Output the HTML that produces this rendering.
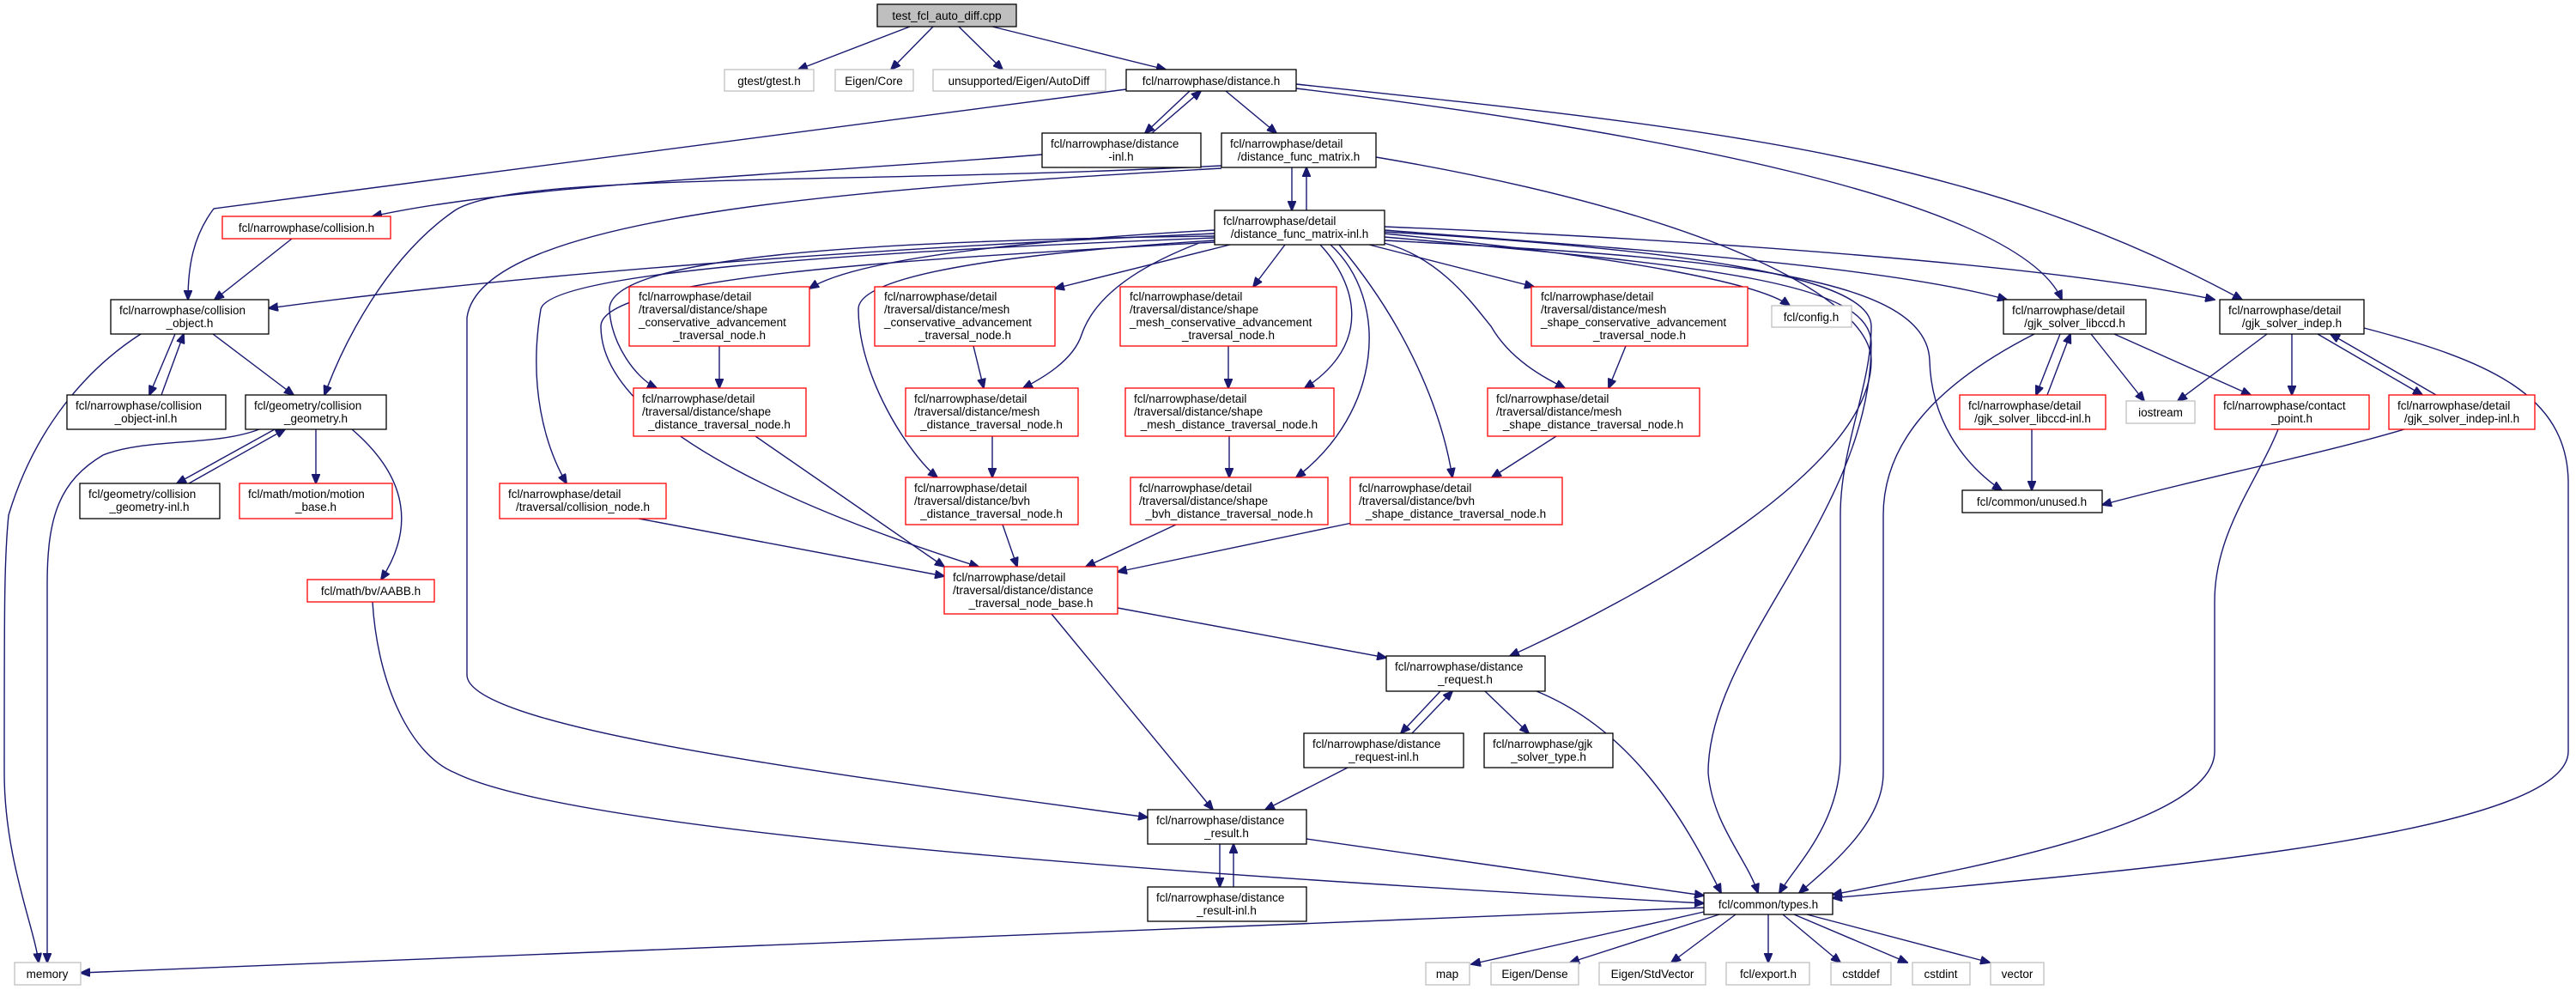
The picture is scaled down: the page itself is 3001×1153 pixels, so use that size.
<!DOCTYPE html>
<html><head><meta charset="utf-8"><style>
html,body{margin:0;padding:0;background:#fff;}
svg{display:block;}
text{font-family:"Liberation Sans",sans-serif;font-size:13.5px;fill:#000;}
.c{text-anchor:middle;}
.e{fill:none;stroke:#191970;stroke-width:1.4;marker-end:url(#a);}
.b{fill:#fff;stroke:#000;stroke-width:1.3;}
.r{fill:#fff;stroke:#ff0000;stroke-width:1.3;}
.g{fill:#fff;stroke:#bfbfbf;stroke-width:1.3;}
</style></head><body>
<svg width="3001" height="1153" viewBox="0 0 3001 1153" xmlns="http://www.w3.org/2000/svg">
<defs><marker id="a" viewBox="0 0 12 10" refX="11" refY="5" markerWidth="12" markerHeight="10" markerUnits="userSpaceOnUse" orient="auto"><path d="M0,0 L12,5 L0,10 z" fill="#191970" stroke="#191970"/></marker></defs>
<rect width="3001" height="1153" fill="#fff"/>
<!-- edges -->
<path class="e" d="M1060,31 L930,81"/>
<path class="e" d="M1087,31 L1038,81"/>
<path class="e" d="M1117,31 L1168,81"/>
<path class="e" d="M1156,31 L1358,81"/>
<path class="e" d="M1386,106 L1334,155"/>
<path class="e" d="M1342,155 L1399,106"/>
<path class="e" d="M1428,106 L1487,155"/>
<path class="e" d="M1312,104 L249,243 C225,275 219,310 219,349"/>
<path class="e" d="M1510,103 C1900,150 2350,230 2402,349"/>
<path class="e" d="M1510,98 C2000,150 2300,180 2612,349"/>
<path class="e" d="M1214,180 C900,205 600,215 434,252"/>
<path class="e" d="M1423,193 C1000,215 600,200 530,245 C450,300 400,400 378,460"/>
<path class="e" d="M1423,196 C1000,220 560,250 544,370 L544,786 C544,850 1000,905 1337,952"/>
<path class="e" d="M1505,195 L1505,245"/>
<path class="e" d="M1522,245 L1522,195"/>
<path class="e" d="M1603,183 C2000,250 2180,350 2180,420 C2180,550 1900,700 1759,764"/>
<path class="e" d="M1415,272 C1000,290 600,320 313,359"/>
<path class="e" d="M1415,268 C1200,280 1000,300 943,336"/>
<path class="e" d="M1433,285 L1229,336"/>
<path class="e" d="M1497,285 L1460,334"/>
<path class="e" d="M1595,285 L1787,334"/>
<path class="e" d="M1415,275 C1000,280 710,300 710,360 C712,400 740,440 765,452"/>
<path class="e" d="M1397,283 C1300,320 1270,360 1260,390 C1250,420 1215,440 1192,452"/>
<path class="e" d="M1538,285 C1580,330 1600,400 1520,452"/>
<path class="e" d="M1612,283 C1680,300 1720,360 1737,380 C1760,420 1800,440 1823,452"/>
<path class="e" d="M1415,277 C950,295 640,320 630,360 C615,450 635,520 660,563"/>
<path class="e" d="M1415,280 C1100,300 1000,330 1000,360 C1000,440 1060,530 1092,556"/>
<path class="e" d="M1550,285 C1620,350 1610,480 1510,556"/>
<path class="e" d="M1560,285 C1640,380 1680,480 1692,556"/>
<path class="e" d="M1415,282 C1100,300 700,320 700,380 C700,500 950,600 1140,660"/>
<path class="e" d="M744,604 L1100,671"/>
<path class="e" d="M880,508 L1100,660"/>
<path class="e" d="M1613,272 C1900,300 2050,330 2085,356"/>
<path class="e" d="M1613,268 C1900,290 2200,310 2338,349"/>
<path class="e" d="M1613,264 C2000,280 2400,310 2580,349"/>
<path class="e" d="M1613,270 C1950,290 2180,320 2180,380 C2180,450 2144,520 2144,600 L2144,880 C2144,960 2090,1010 2073,1040"/>
<path class="e" d="M1613,276 C2000,310 2180,330 2180,400 C2180,600 1990,750 1990,900 C1995,960 2035,1000 2048,1040"/>
<path class="e" d="M1613,280 C2000,300 2245,320 2248,420 C2250,500 2300,550 2332,571"/>
<path class="e" d="M2370,389 C2250,450 2194,520 2194,600 L2194,900 C2194,960 2130,1010 2096,1040"/>
<path class="e" d="M2400,389 L2372,460"/>
<path class="e" d="M2385,460 L2412,389"/>
<path class="e" d="M2436,389 L2498,467"/>
<path class="e" d="M2463,389 L2622,460"/>
<path class="e" d="M2367,500 L2367,571"/>
<path class="e" d="M2641,389 L2537,467"/>
<path class="e" d="M2670,389 L2670,460"/>
<path class="e" d="M2700,389 L2822,460"/>
<path class="e" d="M2838,460 L2715,389"/>
<path class="e" d="M2754,382 C2900,420 2990,460 2992,560 L2992,875 C2992,980 2400,1020 2135,1046"/>
<path class="e" d="M2801,500 C2700,530 2550,560 2449,588"/>
<path class="e" d="M2654,500 C2630,560 2580,620 2580,700 L2580,875 C2580,960 2300,1010 2135,1042"/>
<path class="e" d="M340,278 L250,349"/>
<path class="e" d="M204,389 L174,460"/>
<path class="e" d="M188,460 L214,389"/>
<path class="e" d="M248,389 L342,460"/>
<path class="e" d="M164,389 C100,430 40,500 10,600 C5,650 5,700 5,900 C5,1000 40,1080 45,1121"/>
<path class="e" d="M320,500 L206,563"/>
<path class="e" d="M220,563 L332,500"/>
<path class="e" d="M368,500 L368,563"/>
<path class="e" d="M410,500 C480,560 480,620 444,675"/>
<path class="e" d="M302,500 C250,520 170,510 120,530 C70,560 55,600 55,680 L55,1121"/>
<path class="e" d="M434,701 C440,800 480,880 530,900 C650,960 1200,1010 1985,1052"/>
<path class="e" d="M1985,1057 L94,1133"/>
<path class="e" d="M1302,708 L1615,766"/>
<path class="e" d="M1225,715 L1413,943"/>
<path class="e" d="M1678,805 L1632,854"/>
<path class="e" d="M1645,854 L1692,805"/>
<path class="e" d="M1730,805 L1781,854"/>
<path class="e" d="M1790,805 C1900,850 1960,950 2005,1040"/>
<path class="e" d="M1570,894 L1474,943"/>
<path class="e" d="M1421,983 L1421,1033"/>
<path class="e" d="M1437,1033 L1437,983"/>
<path class="e" d="M1522,977 L1985,1043"/>
<path class="e" d="M1985,1062 L1714,1123"/>
<path class="e" d="M2003,1065 L1829,1121"/>
<path class="e" d="M2022,1065 L1947,1121"/>
<path class="e" d="M2060,1065 L2060,1121"/>
<path class="e" d="M2077,1065 L2144,1121"/>
<path class="e" d="M2090,1065 L2222,1121"/>
<path class="e" d="M2105,1065 L2318,1121"/>
<path class="e" d="M838,403 L838,452"/>
<path class="e" d="M1134,403 L1146,452"/>
<path class="e" d="M1431,403 L1431,452"/>
<path class="e" d="M1894,403 L1874,452"/>
<path class="e" d="M1156,508 L1156,556"/>
<path class="e" d="M1432,508 L1432,556"/>
<path class="e" d="M1813,508 L1738,556"/>
<path class="e" d="M1168,611 L1185,660"/>
<path class="e" d="M1370,611 L1265,660"/>
<path class="e" d="M1575,609 L1302,666"/>

<!-- nodes -->
<rect x="1022" y="5" width="162" height="26" fill="#bfbfbf" stroke="#000" stroke-width="1.3"/><text class="c" x="1103" y="23">test_fcl_auto_diff.cpp</text>
<rect class="g" x="844" y="81" width="104" height="25"/><text class="c" x="896" y="99">gtest/gtest.h</text>
<rect class="g" x="973" y="81" width="91" height="25"/><text class="c" x="1018" y="99">Eigen/Core</text>
<rect class="g" x="1087" y="81" width="201" height="25"/><text class="c" x="1187" y="99">unsupported/Eigen/AutoDiff</text>
<rect class="b" x="1312" y="81" width="198" height="25"/><text class="c" x="1411" y="99">fcl/narrowphase/distance.h</text>
<rect class="b" x="1214" y="155" width="185" height="40"/><text x="1224" y="172">fcl/narrowphase/distance</text><text class="c" x="1306" y="187">-inl.h</text>
<rect class="b" x="1423" y="155" width="180" height="40"/><text x="1433" y="172">fcl/narrowphase/detail</text><text class="c" x="1513" y="187">/distance_func_matrix.h</text>
<rect class="r" x="259" y="252" width="196" height="26"/><text class="c" x="357" y="270">fcl/narrowphase/collision.h</text>
<rect class="b" x="1415" y="245" width="198" height="40"/><text x="1425" y="262">fcl/narrowphase/detail</text><text class="c" x="1514" y="277">/distance_func_matrix-inl.h</text>
<rect class="b" x="129" y="349" width="184" height="40"/><text x="139" y="366">fcl/narrowphase/collision</text><text class="c" x="221" y="381">_object.h</text>
<rect class="r" x="733" y="334" width="210" height="69"/><text x="744" y="350">fcl/narrowphase/detail</text><text x="744" y="365">/traversal/distance/shape</text><text x="744" y="380">_conservative_advancement</text><text class="c" x="838" y="395">_traversal_node.h</text>
<rect class="r" x="1019" y="334" width="210" height="69"/><text x="1030" y="350">fcl/narrowphase/detail</text><text x="1030" y="365">/traversal/distance/mesh</text><text x="1030" y="380">_conservative_advancement</text><text class="c" x="1124" y="395">_traversal_node.h</text>
<rect class="r" x="1305" y="334" width="252" height="69"/><text x="1316" y="350">fcl/narrowphase/detail</text><text x="1316" y="365">/traversal/distance/shape</text><text x="1316" y="380">_mesh_conservative_advancement</text><text class="c" x="1431" y="395">_traversal_node.h</text>
<rect class="r" x="1784" y="334" width="252" height="69"/><text x="1795" y="350">fcl/narrowphase/detail</text><text x="1795" y="365">/traversal/distance/mesh</text><text x="1795" y="380">_shape_conservative_advancement</text><text class="c" x="1910" y="395">_traversal_node.h</text>
<rect class="g" x="2064" y="356" width="93" height="25"/><text class="c" x="2110" y="374">fcl/config.h</text>
<rect class="b" x="2334" y="349" width="166" height="40"/><text x="2344" y="366">fcl/narrowphase/detail</text><text class="c" x="2417" y="381">/gjk_solver_libccd.h</text>
<rect class="b" x="2586" y="349" width="168" height="40"/><text x="2596" y="366">fcl/narrowphase/detail</text><text class="c" x="2670" y="381">/gjk_solver_indep.h</text>
<rect class="b" x="78" y="460" width="185" height="40"/><text x="88" y="477">fcl/narrowphase/collision</text><text class="c" x="170" y="492">_object-inl.h</text>
<rect class="b" x="286" y="460" width="164" height="40"/><text x="296" y="477">fcl/geometry/collision</text><text class="c" x="368" y="492">_geometry.h</text>
<rect class="r" x="738" y="452" width="201" height="56"/><text x="748" y="469">fcl/narrowphase/detail</text><text x="748" y="484">/traversal/distance/shape</text><text class="c" x="838" y="499">_distance_traversal_node.h</text>
<rect class="r" x="1055" y="452" width="201" height="56"/><text x="1065" y="469">fcl/narrowphase/detail</text><text x="1065" y="484">/traversal/distance/mesh</text><text class="c" x="1155" y="499">_distance_traversal_node.h</text>
<rect class="r" x="1311" y="452" width="243" height="56"/><text x="1321" y="469">fcl/narrowphase/detail</text><text x="1321" y="484">/traversal/distance/shape</text><text class="c" x="1432" y="499">_mesh_distance_traversal_node.h</text>
<rect class="r" x="1733" y="452" width="247" height="56"/><text x="1743" y="469">fcl/narrowphase/detail</text><text x="1743" y="484">/traversal/distance/mesh</text><text class="c" x="1856" y="499">_shape_distance_traversal_node.h</text>
<rect class="r" x="2283" y="460" width="170" height="40"/><text x="2293" y="477">fcl/narrowphase/detail</text><text class="c" x="2368" y="492">/gjk_solver_libccd-inl.h</text>
<rect class="g" x="2477" y="467" width="80" height="26"/><text class="c" x="2517" y="485">iostream</text>
<rect class="r" x="2580" y="460" width="180" height="40"/><text x="2590" y="477">fcl/narrowphase/contact</text><text class="c" x="2670" y="492">_point.h</text>
<rect class="r" x="2783" y="460" width="170" height="40"/><text x="2793" y="477">fcl/narrowphase/detail</text><text class="c" x="2868" y="492">/gjk_solver_indep-inl.h</text>
<rect class="b" x="93" y="563" width="163" height="41"/><text x="103" y="580">fcl/geometry/collision</text><text class="c" x="174" y="595">_geometry-inl.h</text>
<rect class="r" x="279" y="563" width="178" height="41"/><text x="289" y="580">fcl/math/motion/motion</text><text class="c" x="368" y="595">_base.h</text>
<rect class="r" x="582" y="563" width="194" height="41"/><text x="592" y="580">fcl/narrowphase/detail</text><text class="c" x="679" y="595">/traversal/collision_node.h</text>
<rect class="r" x="1055" y="556" width="201" height="55"/><text x="1065" y="573">fcl/narrowphase/detail</text><text x="1065" y="588">/traversal/distance/bvh</text><text class="c" x="1155" y="603">_distance_traversal_node.h</text>
<rect class="r" x="1317" y="556" width="230" height="55"/><text x="1327" y="573">fcl/narrowphase/detail</text><text x="1327" y="588">/traversal/distance/shape</text><text class="c" x="1432" y="603">_bvh_distance_traversal_node.h</text>
<rect class="r" x="1573" y="556" width="247" height="55"/><text x="1583" y="573">fcl/narrowphase/detail</text><text x="1583" y="588">/traversal/distance/bvh</text><text class="c" x="1696" y="603">_shape_distance_traversal_node.h</text>
<rect class="b" x="2286" y="571" width="163" height="26"/><text class="c" x="2367" y="589">fcl/common/unused.h</text>
<rect class="r" x="358" y="675" width="148" height="26"/><text class="c" x="432" y="693">fcl/math/bv/AABB.h</text>
<rect class="r" x="1100" y="660" width="202" height="55"/><text x="1110" y="677">fcl/narrowphase/detail</text><text x="1110" y="692">/traversal/distance/distance</text><text class="c" x="1201" y="707">_traversal_node_base.h</text>
<rect class="b" x="1615" y="764" width="185" height="41"/><text x="1625" y="781">fcl/narrowphase/distance</text><text class="c" x="1707" y="796">_request.h</text>
<rect class="b" x="1519" y="854" width="186" height="40"/><text x="1529" y="871">fcl/narrowphase/distance</text><text class="c" x="1612" y="886">_request-inl.h</text>
<rect class="b" x="1729" y="854" width="150" height="40"/><text x="1739" y="871">fcl/narrowphase/gjk</text><text class="c" x="1804" y="886">_solver_type.h</text>
<rect class="b" x="1337" y="943" width="185" height="40"/><text x="1347" y="960">fcl/narrowphase/distance</text><text class="c" x="1429" y="975">_result.h</text>
<rect class="b" x="1337" y="1033" width="185" height="40"/><text x="1347" y="1050">fcl/narrowphase/distance</text><text class="c" x="1429" y="1065">_result-inl.h</text>
<rect class="b" x="1985" y="1040" width="150" height="25"/><text class="c" x="2060" y="1058">fcl/common/types.h</text>
<rect class="g" x="17" y="1121" width="77" height="26"/><text class="c" x="55" y="1139">memory</text>
<rect class="g" x="1661" y="1121" width="51" height="26"/><text class="c" x="1686" y="1139">map</text>
<rect class="g" x="1737" y="1121" width="102" height="26"/><text class="c" x="1788" y="1139">Eigen/Dense</text>
<rect class="g" x="1863" y="1121" width="124" height="26"/><text class="c" x="1925" y="1139">Eigen/StdVector</text>
<rect class="g" x="2011" y="1121" width="97" height="26"/><text class="c" x="2060" y="1139">fcl/export.h</text>
<rect class="g" x="2133" y="1121" width="70" height="26"/><text class="c" x="2168" y="1139">cstddef</text>
<rect class="g" x="2228" y="1121" width="67" height="26"/><text class="c" x="2261" y="1139">cstdint</text>
<rect class="g" x="2319" y="1121" width="62" height="26"/><text class="c" x="2350" y="1139">vector</text>
</svg>
</body></html>
